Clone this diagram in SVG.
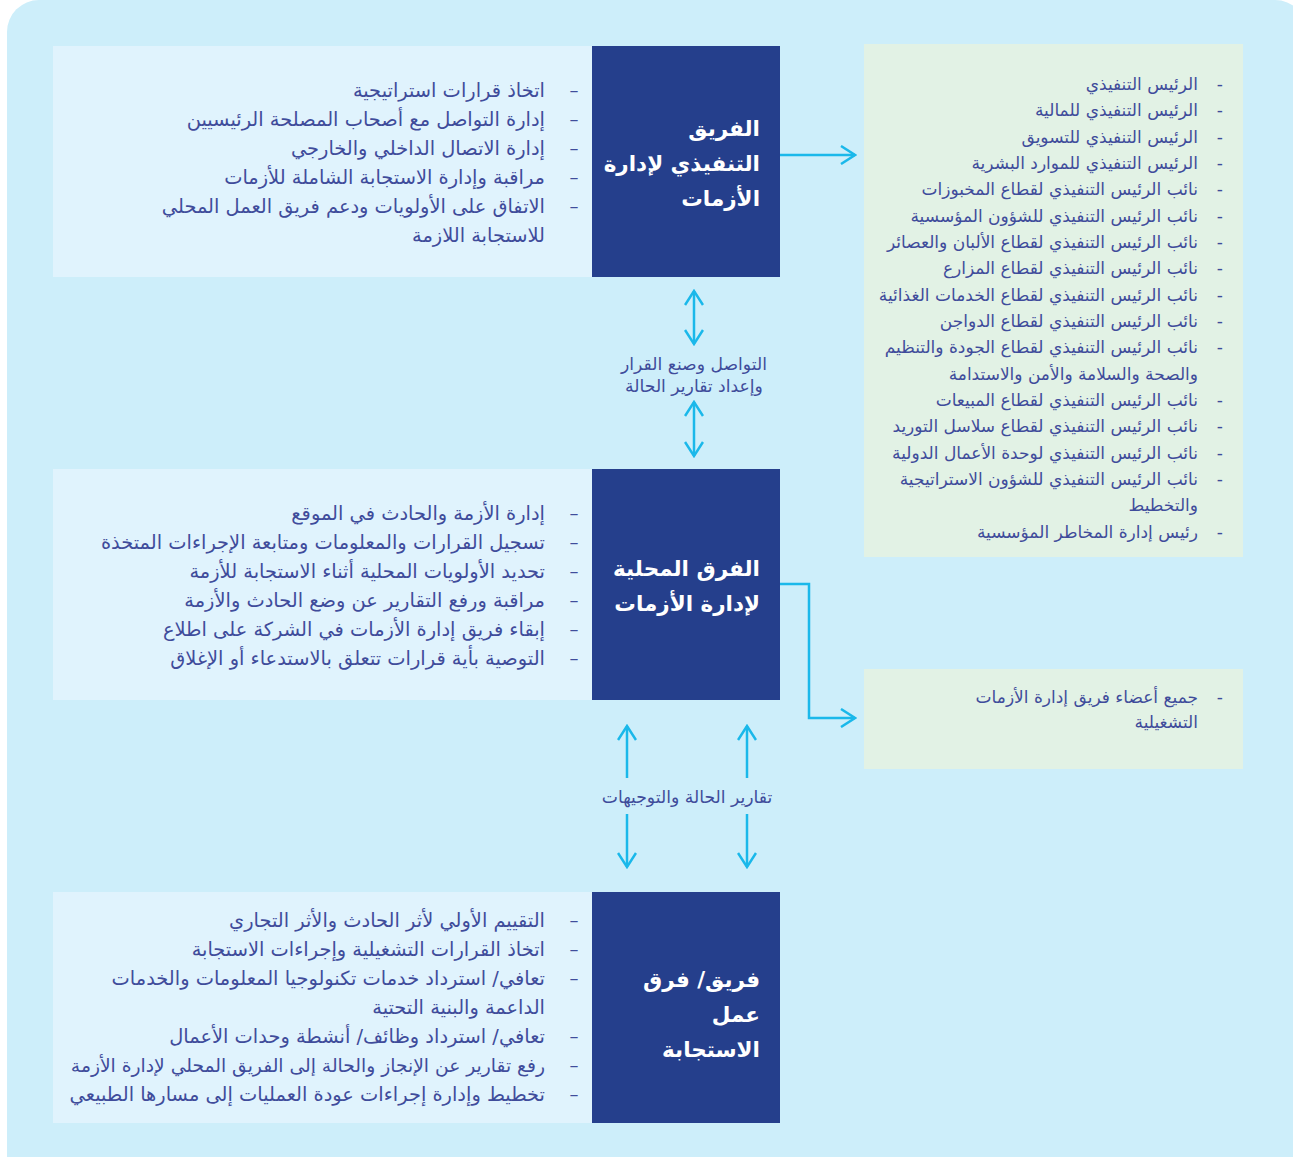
<svg xmlns="http://www.w3.org/2000/svg" width="1293" height="1157" viewBox="0 0 1293 1157">
<style>
.bg{fill:#cdeefa}
.lbox{fill:#e0f3fd}
.rbox{fill:#e2f2e5}
.dbox{fill:#253f8c}
.t{font-family:"DejaVu Sans","Noto Sans",sans-serif;font-size:19.4px;fill:#3f4c9b;text-anchor:end}
.rt{font-family:"DejaVu Sans","Noto Sans",sans-serif;font-size:17px;fill:#3f4c9b;text-anchor:end}
.d{font-family:"DejaVu Sans",sans-serif;font-size:18px;fill:#3f4c9b;text-anchor:middle}
.h{font-family:"DejaVu Sans","Noto Sans",sans-serif;font-size:21.5px;font-weight:bold;fill:#ffffff;text-anchor:end}
.lbl{font-family:"DejaVu Sans","Noto Sans",sans-serif;font-size:17.2px;fill:#3f4c9b;text-anchor:middle}
.c{fill:none;stroke:#1ab8ea;stroke-width:2.5}
</style>
<defs>
<marker id="ah" viewBox="0 0 20 20" refX="18" refY="10" markerWidth="20" markerHeight="20" markerUnits="userSpaceOnUse" orient="auto-start-reverse">
<path d="M4 1 L18 10 L4 19" fill="none" stroke="#1ab8ea" stroke-width="2.5"/>
</marker>
</defs>
<rect x="0" y="0" width="1293" height="1157" fill="#ffffff"/>
<rect class="bg" x="7" y="0" width="1300" height="1200" rx="32"/>

<g id="connectors">
<line class="c" x1="780" y1="155" x2="855" y2="155" marker-end="url(#ah)"/>
<polyline class="c" points="780,584 809,584 809,718 855,718" marker-end="url(#ah)"/>
<line class="c" x1="694" y1="291" x2="694" y2="344" marker-start="url(#ah)" marker-end="url(#ah)"/>
<line class="c" x1="694" y1="402" x2="694" y2="456" marker-start="url(#ah)" marker-end="url(#ah)"/>
<line class="c" x1="627" y1="726" x2="627" y2="778" marker-start="url(#ah)"/>
<line class="c" x1="747" y1="726" x2="747" y2="778" marker-start="url(#ah)"/>
<line class="c" x1="627" y1="814" x2="627" y2="867" marker-end="url(#ah)"/>
<line class="c" x1="747" y1="814" x2="747" y2="867" marker-end="url(#ah)"/>
<text class="lbl" x="694" y="370">التواصل وصنع القرار</text>
<text class="lbl" x="694" y="392">وإعداد تقارير الحالة</text>
<text class="lbl" x="687" y="803">تقارير الحالة والتوجيهات</text>
</g>

<g id="exec-tasks">
<rect class="lbox" x="53" y="46" width="539" height="231"/>
<text class="d" x="574" y="96">–</text>
<text class="t" x="545" y="97">اتخاذ قرارات استراتيجية</text>
<text class="d" x="574" y="125">–</text>
<text class="t" x="545" y="126">إدارة التواصل مع أصحاب المصلحة الرئيسيين</text>
<text class="d" x="574" y="154">–</text>
<text class="t" x="545" y="155">إدارة الاتصال الداخلي والخارجي</text>
<text class="d" x="574" y="183">–</text>
<text class="t" x="545" y="184">مراقبة وإدارة الاستجابة الشاملة للأزمات</text>
<text class="d" x="574" y="212">–</text>
<text class="t" x="545" y="213">الاتفاق على الأولويات ودعم فريق العمل المحلي</text>
<text class="t" x="545" y="242">للاستجابة اللازمة</text>
</g>

<g id="exec-team">
<rect class="dbox" x="592" y="46" width="188" height="231"/>
<text class="h" x="760" y="136">الفريق</text>
<text class="h" x="760" y="171">التنفيذي لإدارة</text>
<text class="h" x="760" y="206">الأزمات</text>
</g>

<g id="exec-members">
<rect class="rbox" x="864" y="44" width="379" height="513"/>
<text class="rt" x="1223" y="90">-</text><text class="rt" x="1198" y="90">الرئيس التنفيذي</text>
<text class="rt" x="1223" y="116">-</text><text class="rt" x="1198" y="116">الرئيس التنفيذي للمالية</text>
<text class="rt" x="1223" y="143">-</text><text class="rt" x="1198" y="143">الرئيس التنفيذي للتسويق</text>
<text class="rt" x="1223" y="169">-</text><text class="rt" x="1198" y="169">الرئيس التنفيذي للموارد البشرية</text>
<text class="rt" x="1223" y="195">-</text><text class="rt" x="1198" y="195">نائب الرئيس التنفيذي لقطاع المخبوزات</text>
<text class="rt" x="1223" y="222">-</text><text class="rt" x="1198" y="222">نائب الرئيس التنفيذي للشؤون المؤسسية</text>
<text class="rt" x="1223" y="248">-</text><text class="rt" x="1198" y="248">نائب الرئيس التنفيذي لقطاع الألبان والعصائر</text>
<text class="rt" x="1223" y="274">-</text><text class="rt" x="1198" y="274">نائب الرئيس التنفيذي لقطاع المزارع</text>
<text class="rt" x="1223" y="301">-</text><text class="rt" x="1198" y="301">نائب الرئيس التنفيذي لقطاع الخدمات الغذائية</text>
<text class="rt" x="1223" y="327">-</text><text class="rt" x="1198" y="327">نائب الرئيس التنفيذي لقطاع الدواجن</text>
<text class="rt" x="1223" y="353">-</text><text class="rt" x="1198" y="353">نائب الرئيس التنفيذي لقطاع الجودة والتنظيم</text>
<text class="rt" x="1198" y="380">والصحة والسلامة والأمن والاستدامة</text>
<text class="rt" x="1223" y="406">-</text><text class="rt" x="1198" y="406">نائب الرئيس التنفيذي لقطاع المبيعات</text>
<text class="rt" x="1223" y="432">-</text><text class="rt" x="1198" y="432">نائب الرئيس التنفيذي لقطاع سلاسل التوريد</text>
<text class="rt" x="1223" y="459">-</text><text class="rt" x="1198" y="459">نائب الرئيس التنفيذي لوحدة الأعمال الدولية</text>
<text class="rt" x="1223" y="485">-</text><text class="rt" x="1198" y="485">نائب الرئيس التنفيذي للشؤون الاستراتيجية</text>
<text class="rt" x="1198" y="511">والتخطيط</text>
<text class="rt" x="1223" y="538">-</text><text class="rt" x="1198" y="538">رئيس إدارة المخاطر المؤسسية</text>
</g>

<g id="local-tasks">
<rect class="lbox" x="53" y="469" width="539" height="231"/>
<text class="d" x="574" y="519">–</text><text class="t" x="545" y="520">إدارة الأزمة والحادث في الموقع</text>
<text class="d" x="574" y="548">–</text><text class="t" x="545" y="549">تسجيل القرارات والمعلومات ومتابعة الإجراءات المتخذة</text>
<text class="d" x="574" y="577">–</text><text class="t" x="545" y="578">تحديد الأولويات المحلية أثناء الاستجابة للأزمة</text>
<text class="d" x="574" y="606">–</text><text class="t" x="545" y="607">مراقبة ورفع التقارير عن وضع الحادث والأزمة</text>
<text class="d" x="574" y="635">–</text><text class="t" x="545" y="636">إبقاء فريق إدارة الأزمات في الشركة على اطلاع</text>
<text class="d" x="574" y="664">–</text><text class="t" x="545" y="665">التوصية بأية قرارات تتعلق بالاستدعاء أو الإغلاق</text>
</g>

<g id="local-team">
<rect class="dbox" x="592" y="469" width="188" height="231"/>
<text class="h" x="760" y="576">الفرق المحلية</text>
<text class="h" x="760" y="611">لإدارة الأزمات</text>
</g>

<g id="ops-members">
<rect class="rbox" x="864" y="669" width="379" height="100"/>
<text class="rt" x="1223" y="703">-</text><text class="rt" x="1198" y="703">جميع أعضاء فريق إدارة الأزمات</text>
<text class="rt" x="1198" y="728">التشغيلية</text>
</g>

<g id="response-tasks">
<rect class="lbox" x="53" y="892" width="539" height="231"/>
<text class="d" x="574" y="926">–</text><text class="t" x="545" y="927">التقييم الأولي لأثر الحادث والأثر التجاري</text>
<text class="d" x="574" y="955">–</text><text class="t" x="545" y="956">اتخاذ القرارات التشغيلية وإجراءات الاستجابة</text>
<text class="d" x="574" y="984">–</text><text class="t" x="545" y="985">تعافي/ استرداد خدمات تكنولوجيا المعلومات والخدمات</text>
<text class="t" x="545" y="1014">الداعمة والبنية التحتية</text>
<text class="d" x="574" y="1042">–</text><text class="t" x="545" y="1043">تعافي/ استرداد وظائف/ أنشطة وحدات الأعمال</text>
<text class="d" x="574" y="1071">–</text><text class="t" x="545" y="1072" style="font-size:18.7px">رفع تقارير عن الإنجاز والحالة إلى الفريق المحلي لإدارة الأزمة</text>
<text class="d" x="574" y="1100">–</text><text class="t" x="545" y="1101">تخطيط وإدارة إجراءات عودة العمليات إلى مسارها الطبيعي</text>
</g>

<g id="response-team">
<rect class="dbox" x="592" y="892" width="188" height="231"/>
<text class="h" x="760" y="987">فريق/ فرق</text>
<text class="h" x="760" y="1022">عمل</text>
<text class="h" x="760" y="1057">الاستجابة</text>
</g>
</svg>
